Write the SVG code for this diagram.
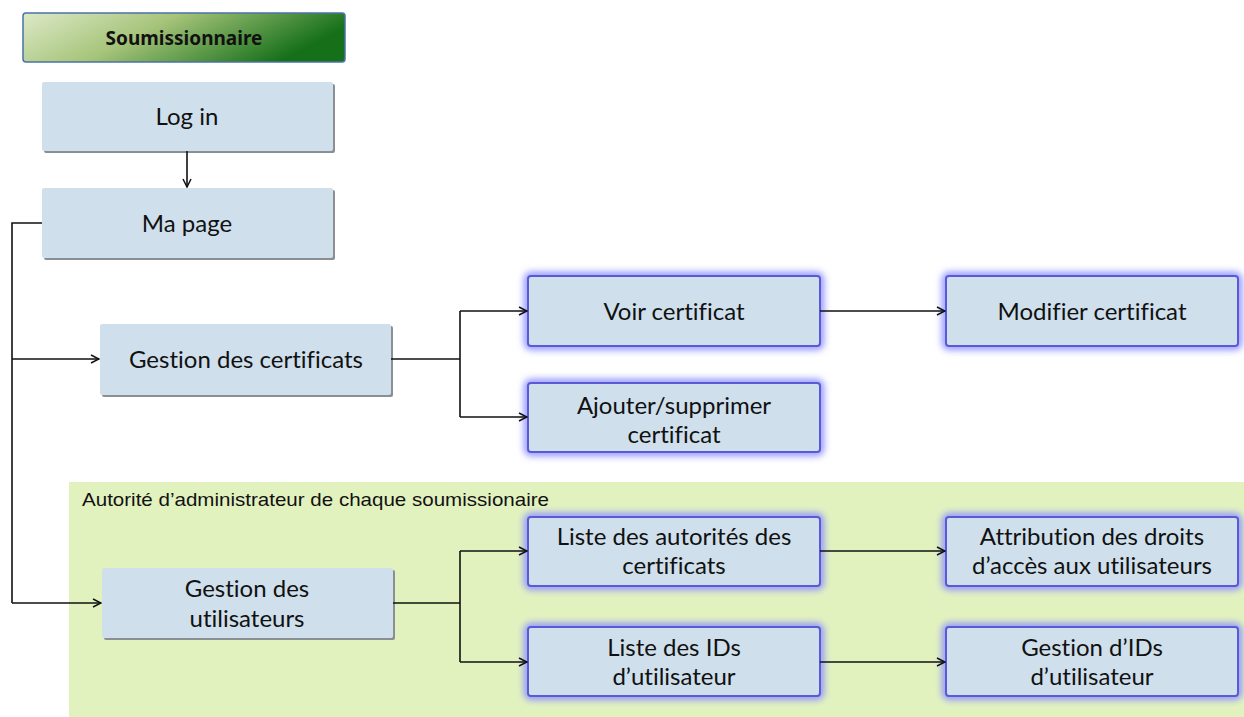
<svg xmlns="http://www.w3.org/2000/svg" width="1244" height="717" viewBox="0 0 1244 717">
<defs>
<linearGradient id="hdr" x1="0" y1="0" x2="1" y2="0.3">
<stop offset="0" stop-color="#dde9c8"/>
<stop offset="0.45" stop-color="#a6c47a"/>
<stop offset="1" stop-color="#16701a"/>
</linearGradient>
<filter id="glow" x="-10%" y="-25%" width="120%" height="150%">
<feGaussianBlur stdDeviation="3.5"/>
</filter>
<marker id="arr" viewBox="0 0 10 10" refX="9" refY="5" markerWidth="10" markerHeight="10" markerUnits="userSpaceOnUse" orient="auto">
<path d="M1,1 L9,5 L1,9" fill="none" stroke="#111" stroke-width="1.5"/>
</marker>
<style>
.box{fill:#cfe0ec;}
.shd{fill:#8a8f94;}
.gl{fill:none;stroke:#8f92ff;stroke-width:8;}
.gb{fill:#cfe0ec;stroke:#5a5ad8;stroke-width:2;}
.t{font-family:Lato,"Noto Sans",sans-serif;font-size:24px;fill:#111;text-anchor:middle;font-variant-ligatures:none;font-feature-settings:"liga" 0,"dlig" 0;}
.c{fill:none;stroke:#111;stroke-width:1.6;}
</style>
</defs>
<rect x="69" y="482" width="1175" height="235" fill="#e2f2bf"/>
<text x="82" y="506" font-family="Liberation Sans, Arial, sans-serif" font-size="19" textLength="467" lengthAdjust="spacingAndGlyphs" fill="#111">Autorité d’administrateur de chaque soumissionaire</text>

<g id="hdr-node">
<rect x="23" y="13" width="322" height="49" rx="3" fill="url(#hdr)" stroke="#4a72a8" stroke-width="1.5"/>
<text x="184" y="45" font-family="Noto Sans, Open Sans, sans-serif" font-size="19" font-weight="bold" fill="#111" text-anchor="middle">Soumissionnaire</text>
</g>

<g id="login">
<rect class="shd" x="44" y="84" width="291" height="69" rx="2"/>
<rect class="box" x="42" y="82" width="291" height="69" rx="2"/>
<text class="t" x="187" y="125">Log in</text>
</g>
<g id="mapage">
<rect class="shd" x="44" y="190" width="291" height="70" rx="2"/>
<rect class="box" x="42" y="188" width="291" height="70" rx="2"/>
<text class="t" x="187" y="232">Ma page</text>
</g>
<g id="gestcert">
<rect class="shd" x="102" y="326" width="291" height="71" rx="2"/>
<rect class="box" x="100" y="324" width="291" height="71" rx="2"/>
<text class="t" x="246" y="368">Gestion des certificats</text>
</g>
<g id="gestuser">
<rect class="shd" x="104" y="570" width="291" height="70" rx="2"/>
<rect class="box" x="102" y="568" width="291" height="70" rx="2"/>
<text class="t" x="247" y="597">Gestion des</text>
<text class="t" x="247" y="627">utilisateurs</text>
</g>

<g id="voir">
<rect class="gl" x="528" y="276" width="292" height="70" rx="3" filter="url(#glow)"/>
<rect class="gb" x="528" y="276" width="292" height="70" rx="3"/>
<text class="t" x="674" y="320">Voir certificat</text>
</g>
<g id="modifier">
<rect class="gl" x="946" y="276" width="292" height="70" rx="3" filter="url(#glow)"/>
<rect class="gb" x="946" y="276" width="292" height="70" rx="3"/>
<text class="t" x="1092" y="320">Modifier certificat</text>
</g>
<g id="ajouter">
<rect class="gl" x="528" y="383" width="292" height="69" rx="3" filter="url(#glow)"/>
<rect class="gb" x="528" y="383" width="292" height="69" rx="3"/>
<text class="t" x="674" y="414">Ajouter/supprimer</text>
<text class="t" x="674" y="443">certificat</text>
</g>
<g id="listeaut">
<rect class="gl" x="528" y="517" width="292" height="69" rx="3" filter="url(#glow)"/>
<rect class="gb" x="528" y="517" width="292" height="69" rx="3"/>
<text class="t" x="674" y="545">Liste des autorités des</text>
<text class="t" x="674" y="574">certificats</text>
</g>
<g id="attrib">
<rect class="gl" x="946" y="517" width="292" height="69" rx="3" filter="url(#glow)"/>
<rect class="gb" x="946" y="517" width="292" height="69" rx="3"/>
<text class="t" x="1092" y="545">Attribution des droits</text>
<text class="t" x="1092" y="574">d’accès aux utilisateurs</text>
</g>
<g id="listeids">
<rect class="gl" x="528" y="627" width="292" height="69" rx="3" filter="url(#glow)"/>
<rect class="gb" x="528" y="627" width="292" height="69" rx="3"/>
<text class="t" x="674" y="656">Liste des IDs</text>
<text class="t" x="674" y="685">d’utilisateur</text>
</g>
<g id="gestids">
<rect class="gl" x="946" y="627" width="292" height="69" rx="3" filter="url(#glow)"/>
<rect class="gb" x="946" y="627" width="292" height="69" rx="3"/>
<text class="t" x="1092" y="656">Gestion d’IDs</text>
<text class="t" x="1092" y="685">d’utilisateur</text>
</g>

<g id="connectors">
<path class="c" d="M187,151 V187" marker-end="url(#arr)"/>
<path class="c" d="M42,223 H12 V603"/>
<path class="c" d="M12,359 H99" marker-end="url(#arr)"/>
<path class="c" d="M12,603 H101" marker-end="url(#arr)"/>
<path class="c" d="M391,359 H460"/>
<path class="c" d="M460,311 V417"/>
<path class="c" d="M460,311 H527" marker-end="url(#arr)"/>
<path class="c" d="M460,417 H527" marker-end="url(#arr)"/>
<path class="c" d="M820,311 H945" marker-end="url(#arr)"/>
<path class="c" d="M393,603 H460"/>
<path class="c" d="M460,551 V662"/>
<path class="c" d="M460,551 H527" marker-end="url(#arr)"/>
<path class="c" d="M460,662 H527" marker-end="url(#arr)"/>
<path class="c" d="M820,551 H945" marker-end="url(#arr)"/>
<path class="c" d="M820,662 H945" marker-end="url(#arr)"/>
</g>
</svg>
